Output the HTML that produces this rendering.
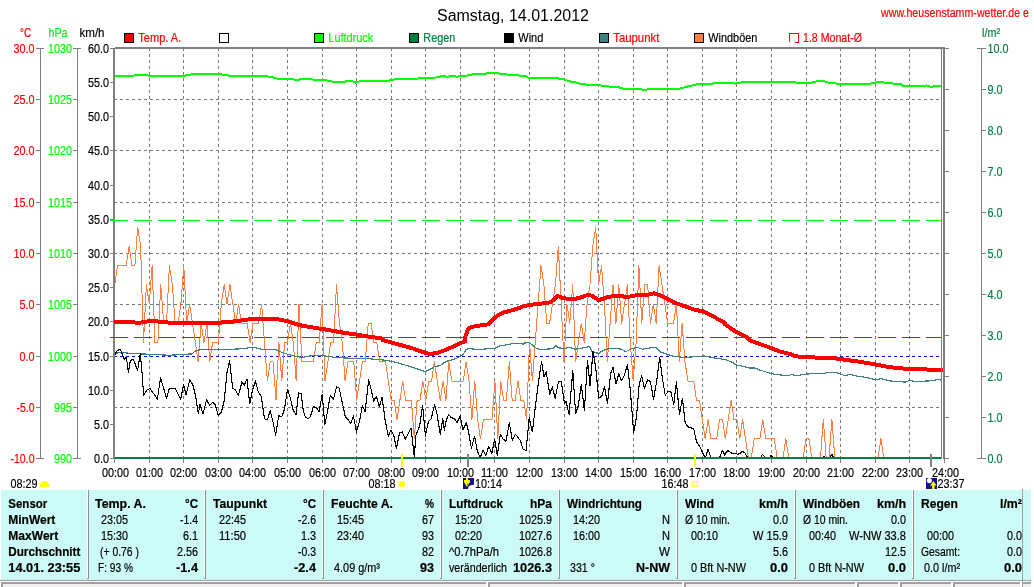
<!DOCTYPE html>
<html><head><meta charset="utf-8"><title>Wetter</title>
<style>
html,body{margin:0;padding:0;background:#fff;}
body{width:1034px;height:587px;overflow:hidden;}
svg{display:block;font-family:"Liberation Sans",sans-serif;will-change:transform;}
</style></head><body>
<svg width="1034" height="587" viewBox="0 0 1034 587">
<rect x="0" y="0" width="1034" height="587" fill="#ffffff"/>
<g shape-rendering="crispEdges">
<line x1="149.5" y1="48" x2="149.5" y2="457" stroke="#787878" stroke-width="1" stroke-dasharray="3 3" stroke-dashoffset="0"/>
<line x1="183.5" y1="48" x2="183.5" y2="457" stroke="#787878" stroke-width="1" stroke-dasharray="3 3" stroke-dashoffset="0"/>
<line x1="218.5" y1="48" x2="218.5" y2="457" stroke="#787878" stroke-width="1" stroke-dasharray="3 3" stroke-dashoffset="0"/>
<line x1="252.5" y1="48" x2="252.5" y2="457" stroke="#787878" stroke-width="1" stroke-dasharray="3 3" stroke-dashoffset="0"/>
<line x1="287.5" y1="48" x2="287.5" y2="457" stroke="#787878" stroke-width="1" stroke-dasharray="3 3" stroke-dashoffset="0"/>
<line x1="322.5" y1="48" x2="322.5" y2="457" stroke="#787878" stroke-width="1" stroke-dasharray="3 3" stroke-dashoffset="0"/>
<line x1="356.5" y1="48" x2="356.5" y2="457" stroke="#787878" stroke-width="1" stroke-dasharray="3 3" stroke-dashoffset="0"/>
<line x1="391.5" y1="48" x2="391.5" y2="457" stroke="#787878" stroke-width="1" stroke-dasharray="3 3" stroke-dashoffset="0"/>
<line x1="425.5" y1="48" x2="425.5" y2="457" stroke="#787878" stroke-width="1" stroke-dasharray="3 3" stroke-dashoffset="0"/>
<line x1="460.5" y1="48" x2="460.5" y2="457" stroke="#787878" stroke-width="1" stroke-dasharray="3 3" stroke-dashoffset="0"/>
<line x1="494.5" y1="48" x2="494.5" y2="457" stroke="#787878" stroke-width="1" stroke-dasharray="3 3" stroke-dashoffset="0"/>
<line x1="529.5" y1="48" x2="529.5" y2="457" stroke="#787878" stroke-width="1" stroke-dasharray="3 3" stroke-dashoffset="0"/>
<line x1="564.5" y1="48" x2="564.5" y2="457" stroke="#787878" stroke-width="1" stroke-dasharray="3 3" stroke-dashoffset="0"/>
<line x1="598.5" y1="48" x2="598.5" y2="457" stroke="#787878" stroke-width="1" stroke-dasharray="3 3" stroke-dashoffset="0"/>
<line x1="633.5" y1="48" x2="633.5" y2="457" stroke="#787878" stroke-width="1" stroke-dasharray="3 3" stroke-dashoffset="0"/>
<line x1="667.5" y1="48" x2="667.5" y2="457" stroke="#787878" stroke-width="1" stroke-dasharray="3 3" stroke-dashoffset="0"/>
<line x1="702.5" y1="48" x2="702.5" y2="457" stroke="#787878" stroke-width="1" stroke-dasharray="3 3" stroke-dashoffset="0"/>
<line x1="736.5" y1="48" x2="736.5" y2="457" stroke="#787878" stroke-width="1" stroke-dasharray="3 3" stroke-dashoffset="0"/>
<line x1="771.5" y1="48" x2="771.5" y2="457" stroke="#787878" stroke-width="1" stroke-dasharray="3 3" stroke-dashoffset="0"/>
<line x1="806.5" y1="48" x2="806.5" y2="457" stroke="#787878" stroke-width="1" stroke-dasharray="3 3" stroke-dashoffset="0"/>
<line x1="840.5" y1="48" x2="840.5" y2="457" stroke="#787878" stroke-width="1" stroke-dasharray="3 3" stroke-dashoffset="0"/>
<line x1="875.5" y1="48" x2="875.5" y2="457" stroke="#787878" stroke-width="1" stroke-dasharray="3 3" stroke-dashoffset="0"/>
<line x1="909.5" y1="48" x2="909.5" y2="457" stroke="#787878" stroke-width="1" stroke-dasharray="3 3" stroke-dashoffset="0"/>
<line x1="115" y1="99.5" x2="941" y2="99.5" stroke="#787878" stroke-width="1" stroke-dasharray="3 3" stroke-dashoffset="1"/>
<line x1="115" y1="150.5" x2="941" y2="150.5" stroke="#787878" stroke-width="1" stroke-dasharray="3 3" stroke-dashoffset="1"/>
<line x1="115" y1="202.5" x2="941" y2="202.5" stroke="#787878" stroke-width="1" stroke-dasharray="3 3" stroke-dashoffset="1"/>
<line x1="115" y1="253.5" x2="941" y2="253.5" stroke="#787878" stroke-width="1" stroke-dasharray="3 3" stroke-dashoffset="1"/>
<line x1="115" y1="304.5" x2="941" y2="304.5" stroke="#787878" stroke-width="1" stroke-dasharray="3 3" stroke-dashoffset="1"/>
<line x1="115" y1="407.5" x2="941" y2="407.5" stroke="#787878" stroke-width="1" stroke-dasharray="3 3" stroke-dashoffset="1"/>
<line x1="110" y1="220.5" x2="941" y2="220.5" stroke="#00ff00" stroke-width="1" stroke-dasharray="18 6" stroke-dashoffset="0"/>
<line x1="110" y1="337.5" x2="941" y2="337.5" stroke="#ff0000" stroke-width="1" stroke-dasharray="18 6" stroke-dashoffset="0"/>
<line x1="115" y1="356.5" x2="941" y2="356.5" stroke="#0000ff" stroke-width="1" stroke-dasharray="3 3" stroke-dashoffset="1"/>
</g>
<clipPath id="pc"><rect x="115" y="49" width="827" height="410"/></clipPath>
<g fill="none" stroke-linejoin="round" shape-rendering="crispEdges" clip-path="url(#pc)">
<polyline points="114.7,284.8 117.6,265.5 120.5,265.5 123.3,265.5 126.2,265.5 129.1,246.3 132.0,265.5 134.9,265.5 137.7,227.0 140.6,246.3 143.5,342.5 146.4,284.8 149.3,304.0 152.1,265.5 155.0,342.5 157.9,342.5 160.8,284.8 163.7,323.3 166.5,323.3 169.4,265.5 172.3,284.8 175.2,323.3 178.1,323.3 180.9,304.0 183.8,265.5 186.7,323.3 189.6,304.0 192.5,323.3 195.4,342.5 198.2,361.8 201.1,323.3 204.0,342.5 206.9,323.3 209.8,361.8 212.6,342.5 215.5,342.5 218.4,342.5 221.3,304.0 224.2,284.8 227.0,304.0 229.9,284.8 232.8,304.0 235.7,323.3 238.6,304.0 241.4,323.3 244.3,323.3 247.2,323.3 250.1,342.5 253.0,323.3 255.8,323.3 258.7,323.3 261.6,304.0 264.5,342.5 267.4,381.0 270.2,361.8 273.1,361.8 276.0,400.3 278.9,342.5 281.8,381.0 284.6,342.5 287.5,342.5 290.4,323.3 293.3,342.5 296.2,381.0 299.0,304.0 301.9,361.8 304.8,361.8 307.7,361.8 310.6,361.8 313.4,361.8 316.3,342.5 319.2,342.5 322.1,304.0 325.0,381.0 327.9,361.8 330.7,342.5 333.6,342.5 336.5,284.8 339.4,323.3 342.3,342.5 345.1,381.0 348.0,361.8 350.9,361.8 353.8,361.8 356.7,400.3 359.5,381.0 362.4,361.8 365.3,361.8 368.2,323.3 371.1,323.3 373.9,342.5 376.8,342.5 379.7,361.8 382.6,361.8 385.5,361.8 388.3,381.0 391.2,400.3 394.1,400.3 397.0,419.5 399.9,400.3 402.7,381.0 405.6,400.3 408.5,400.3 411.4,400.3 414.3,438.8 417.1,400.3 420.0,400.3 422.9,381.0 425.8,400.3 428.7,381.0 431.5,381.0 434.4,361.8 437.3,381.0 440.2,400.3 443.1,381.0 445.9,400.3 448.8,361.8 451.7,381.0 454.6,381.0 457.5,381.0 460.3,381.0 463.2,381.0 466.1,361.8 469.0,381.0 471.9,419.5 474.8,381.0 477.6,419.5 480.5,438.8 483.4,419.5 486.3,419.5 489.2,419.5 492.0,419.5 494.9,381.0 497.8,438.8 500.7,381.0 503.6,400.3 506.4,400.3 509.3,361.8 512.2,400.3 515.1,400.3 518.0,381.0 520.8,400.3 523.7,400.3 526.6,419.5 529.5,342.5 532.4,381.0 535.2,342.5 538.1,304.0 541.0,265.5 543.9,284.8 546.8,323.3 549.6,323.3 552.5,304.0 555.4,284.8 558.3,246.3 561.2,304.0 564.0,361.8 566.9,304.0 569.8,323.3 572.7,284.8 575.6,361.8 578.4,342.5 581.3,323.3 584.2,342.5 587.1,304.0 590.0,284.8 592.8,246.3 595.7,227.0 598.6,284.8 601.5,265.5 604.4,304.0 607.3,361.8 610.1,323.3 613.0,284.8 615.9,323.3 618.8,284.8 621.7,323.3 624.5,304.0 627.4,284.8 630.3,342.5 633.2,381.0 636.1,342.5 638.9,265.5 641.8,323.3 644.7,284.8 647.6,284.8 650.5,323.3 653.3,304.0 656.2,323.3 659.1,265.5 662.0,284.8 664.9,304.0 667.7,323.3 670.6,323.3 673.5,323.3 676.4,304.0 679.3,361.8 682.1,323.3 685.0,361.8 687.9,381.0 690.8,381.0 693.7,381.0 696.5,400.3 699.4,400.3 702.3,419.5 705.2,438.8 708.1,419.5 710.9,438.8 713.8,438.8 716.7,438.8 719.6,419.5 722.5,419.5 725.3,438.8 728.2,419.5 731.1,400.3 734.0,419.5 736.9,419.5 739.8,438.8 742.6,419.5 745.5,438.8 748.4,458.0 751.3,458.0 754.2,438.8 757.0,438.8 759.9,438.8 762.8,419.5 765.7,438.8 768.6,438.8 771.4,438.8 774.3,438.8 777.2,458.0 780.1,458.0 783.0,458.0 785.8,438.8 788.7,458.0 791.6,458.0 794.5,458.0 797.4,458.0 800.2,458.0 803.1,458.0 806.0,438.8 808.9,438.8 811.8,458.0 814.6,458.0 817.5,458.0 820.4,458.0 823.3,419.5 826.2,458.0 829.0,458.0 831.9,419.5 834.8,458.0 837.7,458.0 840.6,458.0 843.4,458.0 846.3,458.0 849.2,458.0 852.1,458.0 855.0,458.0 857.8,458.0 860.7,458.0 863.6,458.0 866.5,458.0 869.4,458.0 872.2,458.0 875.1,458.0 878.0,458.0 880.9,438.8 883.8,458.0 886.7,458.0 889.5,458.0 892.4,458.0 895.3,458.0 898.2,458.0 901.1,458.0 903.9,458.0 906.8,458.0 909.7,458.0 912.6,458.0 915.5,458.0 918.3,458.0 921.2,458.0 924.1,458.0 927.0,458.0 929.9,458.0 932.7,458.0 935.6,458.0 938.5,458.0 941.4,458.0 944.3,458.0" stroke="#ff8040" stroke-width="1"/>
<polyline points="114.5,355.3 118.2,352.3 130.4,353.3 140.7,353.9 150.9,354.3 169.3,355.3 191.8,353.9 195.9,350.6 202.0,349.2 216.3,349.2 226.6,349.8 232.7,349.2 245.0,348.6 251.1,347.2 255.2,347.6 261.3,349.2 275.6,349.6 281.8,352.3 287.9,354.3 294.0,356.0 302.2,357.4 307.3,356.4 314.5,355.3 325.2,356.0 335.4,357.4 345.7,358.0 355.9,358.4 366.1,358.4 376.3,359.4 386.6,360.4 396.8,362.5 407.0,365.6 417.2,369.0 425.4,371.7 431.6,368.6 434.6,366.6 440.2,365.6 445.9,361.5 450.0,360.4 456.1,358.4 460.2,356.4 463.3,354.3 466.3,349.2 470.4,348.6 478.6,349.8 488.8,348.6 495.0,348.2 499.0,346.1 505.2,345.1 515.4,343.1 523.6,344.1 524.1,343.1 529.2,342.5 532.3,345.1 536.4,348.2 540.4,349.8 546.6,349.2 552.7,348.6 555.8,345.7 558.9,347.8 564.0,348.6 569.1,347.2 575.2,349.2 581.3,348.2 589.5,346.5 592.6,352.3 598.7,353.3 603.8,350.2 610.0,348.2 622.2,349.2 625.3,351.9 630.4,349.2 636.6,347.2 642.7,349.2 650.9,347.8 656.0,347.8 661.1,352.3 667.2,354.3 673.4,356.4 683.6,357.4 693.8,356.8 704.0,356.0 714.3,358.0 724.5,359.4 728.6,360.9 731.5,361.8 736.3,365.0 742.4,366.1 748.9,367.9 754.4,367.9 759.8,370.0 771.3,373.7 779.4,374.8 788.1,375.9 791.4,374.4 796.8,375.9 803.3,374.4 812.0,373.7 822.9,373.7 829.4,372.2 836.0,372.6 840.3,373.7 844.7,375.9 850.1,374.4 855.5,375.9 866.4,377.4 875.1,379.6 881.7,378.7 890.4,380.9 899.1,381.8 905.6,382.0 909.5,380.3 914.3,381.3 920.8,381.3 929.5,380.9 938.2,379.6 941.5,380.3" stroke="#408080" stroke-width="1.2"/>
<polyline points="114.5,355.3 117.2,350.6 120.2,349.2 122.3,354.3 124.3,359.4 126.4,357.4 128.4,372.3 130.4,360.4 133.5,359.4 137.6,370.7 140.3,353.3 141.7,368.6 143.7,395.2 146.8,390.1 149.9,388.5 154.0,394.2 157.4,399.3 160.5,377.8 163.6,388.1 166.6,398.3 169.3,388.5 175.4,388.5 180.6,399.3 183.6,384.6 186.1,394.8 189.8,379.9 192.8,385.0 195.5,395.2 198.3,414.0 200.0,404.4 203.0,414.0 206.5,399.9 209.6,405.0 212.7,402.4 215.3,405.0 218.4,415.7 221.5,411.6 224.1,401.3 227.0,372.7 229.6,360.4 232.7,388.5 235.2,389.7 238.4,395.6 241.9,381.9 244.4,385.0 247.0,378.9 249.7,403.8 252.5,390.1 255.4,380.9 258.3,392.1 261.3,396.2 264.4,418.7 267.5,419.8 270.1,410.6 273.0,421.8 275.6,435.1 278.7,415.7 281.8,416.7 284.4,409.5 287.5,389.1 290.4,398.3 293.2,410.6 296.1,414.6 298.5,392.8 301.2,393.6 303.3,410.6 305.3,416.7 308.0,418.7 310.4,416.7 313.5,406.5 315.0,407.5 316.5,407.5 319.1,411.6 322.2,394.2 324.8,424.9 327.7,410.6 330.3,395.2 333.4,399.3 336.5,387.0 339.1,388.1 342.0,401.3 345.3,416.7 348.1,419.8 350.8,423.8 353.4,415.7 356.5,432.0 359.4,421.8 362.4,405.4 365.1,411.6 368.6,379.9 370.8,388.1 373.7,401.3 376.3,396.2 379.4,406.5 382.1,397.3 385.1,419.8 388.2,436.1 391.1,430.0 393.9,436.1 396.4,448.4 399.5,433.0 402.3,432.0 405.2,439.2 408.0,434.1 411.1,427.9 414.4,458.0 415.6,436.1 419.7,425.9 422.6,405.4 425.4,436.1 428.3,421.8 431.2,418.7 434.6,404.4 437.1,414.6 440.2,434.1 442.8,418.7 444.4,430.0 445.9,421.8 448.5,414.6 451.4,417.7 454.3,418.7 457.1,422.8 460.2,415.7 462.9,430.0 466.3,422.8 468.8,433.0 471.4,448.4 474.5,436.1 477.2,450.4 480.2,457.6 483.1,450.4 485.8,455.5 488.8,446.3 491.9,453.5 494.6,439.2 497.4,455.5 500.3,434.1 503.1,439.2 506.0,441.2 509.3,422.8 512.3,440.2 515.4,434.1 520.0,440.2 520.3,440.2 523.1,449.4 523.2,449.4 526.1,450.4 529.2,417.7 532.3,432.0 535.3,407.5 538.4,382.9 541.5,361.5 544.1,376.8 546.2,371.7 549.7,394.2 552.3,387.0 555.2,398.3 558.4,381.9 561.3,381.9 564.4,403.4 566.0,401.3 569.1,414.6 572.8,370.7 575.6,413.6 578.3,405.4 581.3,384.0 584.4,410.6 587.5,360.4 590.1,386.0 593.0,351.2 595.7,367.6 598.7,398.3 601.8,396.2 604.5,387.0 607.5,403.4 610.6,373.7 613.0,367.6 616.1,384.0 618.8,373.7 621.6,380.9 624.5,374.8 627.4,364.5 630.4,391.1 633.7,433.0 636.6,415.7 639.2,384.0 641.7,375.8 644.3,388.1 647.8,379.9 650.5,381.9 653.5,399.3 656.4,382.9 659.7,357.4 662.5,378.9 665.2,395.2 668.3,391.1 670.9,392.1 673.8,404.4 676.4,381.9 679.5,414.6 682.4,398.3 685.2,422.8 688.1,426.9 691.0,427.9 693.8,429.0 696.3,441.2 699.6,446.3 702.4,452.1 705.3,458.0 708.1,449.4 711.0,458.0 719.4,458.0 722.5,450.4 725.0,455.3 725.3,453.5 728.2,450.4 728.3,451.0 731.5,453.1 734.8,453.6 738.1,454.2 740.2,453.1 742.4,451.4 745.0,453.1 747.8,457.9 760.9,457.9 762.4,454.2 764.2,456.4 765.3,457.9 769.6,457.9 771.1,455.3 772.9,457.9 822.9,457.9 824.0,456.4 825.5,457.9 829.4,457.9 832.0,454.2 833.8,457.9 942.6,457.9" stroke="#000" stroke-width="1.1"/>
<polyline points="114.1,75.9 126.2,76.1 131.7,75.6 145.2,75.0 153.3,76.4 180.4,76.4 191.2,74.5 217.0,73.7 229.1,75.6 250.8,75.9 261.6,75.6 272.5,77.2 277.9,78.8 288.7,78.8 296.8,79.9 302.3,79.1 310.4,79.4 323.9,79.9 332.0,81.5 345.6,81.5 351.0,80.7 355.9,82.6 360.5,81.0 378.1,81.0 380.8,81.5 388.9,80.7 390.4,80.2 398.5,78.8 417.5,78.6 422.9,77.7 436.4,77.5 443.2,75.9 447.3,76.7 452.7,75.9 456.8,76.7 466.2,75.6 474.4,74.0 485.2,73.7 490.6,72.9 496.0,73.1 506.9,74.5 515.0,75.3 525.8,75.9 528.5,78.0 555.6,78.0 563.7,79.4 569.1,81.3 574.5,82.1 580.0,83.7 588.1,84.8 598.9,85.1 607.0,86.4 617.9,87.0 623.3,88.8 639.5,89.1 645.0,89.9 651.7,88.8 663.9,88.8 679.6,88.7 688.0,86.4 696.5,84.4 710.5,84.2 716.1,82.5 720.3,83.3 727.3,83.3 730.7,82.5 735.7,83.6 741.3,82.5 772.2,82.2 780.6,81.6 789.0,82.5 793.2,81.6 798.8,83.3 808.6,83.3 815.6,81.6 821.2,80.5 828.3,82.5 836.7,83.6 853.5,83.6 859.1,84.4 867.5,84.2 874.5,82.8 880.1,81.6 887.1,83.3 895.6,83.6 901.2,84.4 903.4,86.4 923.6,86.4 926.4,85.3 930.6,86.7 940.4,85.8 942.7,85.8" stroke="#00ff00" stroke-width="2"/>
</g>
<clipPath id="pr"><rect x="113" y="49" width="830" height="410"/></clipPath>
<g fill="none" stroke-linejoin="round" shape-rendering="crispEdges" clip-path="url(#pr)"><polyline points="112.5,322.2 114.1,322.2 140.7,322.6 150.9,320.8 171.3,322.8 195.9,323.2 220.4,322.6 232.7,321.6 251.1,319.1 273.6,318.5 287.9,321.2 300.2,325.3 315.0,327.9 327.3,329.8 341.6,332.4 355.9,334.5 368.2,336.5 382.5,338.6 382.5,340.0 400.9,345.1 413.2,348.6 421.3,351.5 426.5,353.3 431.6,353.9 437.7,352.7 445.9,349.8 454.1,346.1 465.3,341.0 465.3,336.5 468.4,328.3 474.5,326.3 488.8,324.2 495.0,317.1 503.1,312.6 513.4,309.9 523.6,306.3 530.2,304.8 540.4,303.8 550.7,302.2 557.8,296.0 562.9,298.1 573.2,299.3 581.3,297.3 587.5,295.0 591.6,295.6 598.7,300.1 605.9,297.7 612.0,296.2 620.2,295.6 626.3,297.3 634.5,295.6 642.7,294.6 648.8,294.6 653.9,293.2 661.1,295.6 667.2,298.7 673.4,302.2 683.6,305.8 693.8,309.5 704.0,311.6 714.3,317.1 724.5,322.6 725.0,324.3 735.9,331.9 746.8,337.3 748.9,340.0 757.6,343.3 768.5,347.0 779.4,351.3 790.3,354.1 794.6,356.3 812.0,357.4 833.8,358.1 846.8,360.0 859.9,361.8 875.1,364.4 886.0,366.5 899.1,368.3 909.9,368.9 920.8,369.4 942.6,369.8 943.5,369.8" stroke="#ff0000" stroke-width="4"/></g>
<g shape-rendering="crispEdges">
<rect x="115" y="457" width="827" height="2" fill="#008040"/>
<rect x="113" y="48" width="2" height="411" fill="#808080"/>
<rect x="115" y="47" width="830" height="2" fill="#808080"/>
<rect x="941" y="49" width="1" height="410" fill="#808080"/>
<rect x="943" y="47" width="2" height="412" fill="#808080"/>
<rect x="40" y="48" width="1" height="411" fill="#808080"/>
<rect x="77" y="48" width="1" height="411" fill="#808080"/>
<rect x="36" y="48" width="8" height="1" fill="#808080"/>
<rect x="73" y="48" width="8" height="1" fill="#808080"/>
<rect x="36" y="99" width="4" height="1" fill="#808080"/>
<rect x="73" y="99" width="4" height="1" fill="#808080"/>
<rect x="36" y="150" width="4" height="1" fill="#808080"/>
<rect x="73" y="150" width="4" height="1" fill="#808080"/>
<rect x="36" y="202" width="4" height="1" fill="#808080"/>
<rect x="73" y="202" width="4" height="1" fill="#808080"/>
<rect x="36" y="253" width="4" height="1" fill="#808080"/>
<rect x="73" y="253" width="4" height="1" fill="#808080"/>
<rect x="36" y="304" width="4" height="1" fill="#808080"/>
<rect x="73" y="304" width="4" height="1" fill="#808080"/>
<rect x="36" y="356" width="4" height="1" fill="#808080"/>
<rect x="73" y="356" width="4" height="1" fill="#808080"/>
<rect x="36" y="407" width="4" height="1" fill="#808080"/>
<rect x="73" y="407" width="4" height="1" fill="#808080"/>
<rect x="36" y="458" width="8" height="1" fill="#808080"/>
<rect x="73" y="458" width="8" height="1" fill="#808080"/>
<rect x="110" y="458" width="3" height="1" fill="#808080"/>
<rect x="110" y="424" width="3" height="1" fill="#808080"/>
<rect x="110" y="390" width="3" height="1" fill="#808080"/>
<rect x="110" y="356" width="3" height="1" fill="#808080"/>
<rect x="110" y="321" width="3" height="1" fill="#808080"/>
<rect x="110" y="287" width="3" height="1" fill="#808080"/>
<rect x="110" y="253" width="3" height="1" fill="#808080"/>
<rect x="110" y="219" width="3" height="1" fill="#808080"/>
<rect x="110" y="185" width="3" height="1" fill="#808080"/>
<rect x="110" y="150" width="3" height="1" fill="#808080"/>
<rect x="110" y="116" width="3" height="1" fill="#808080"/>
<rect x="110" y="82" width="3" height="1" fill="#808080"/>
<rect x="110" y="48" width="3" height="1" fill="#808080"/>
<rect x="981" y="48" width="1" height="411" fill="#808080"/>
<rect x="977" y="458" width="9" height="1" fill="#808080"/>
<rect x="945" y="458" width="4" height="1" fill="#808080"/>
<rect x="982" y="417" width="4" height="1" fill="#808080"/>
<rect x="945" y="417" width="4" height="1" fill="#808080"/>
<rect x="982" y="376" width="4" height="1" fill="#808080"/>
<rect x="945" y="376" width="4" height="1" fill="#808080"/>
<rect x="982" y="335" width="4" height="1" fill="#808080"/>
<rect x="945" y="335" width="4" height="1" fill="#808080"/>
<rect x="982" y="294" width="4" height="1" fill="#808080"/>
<rect x="945" y="294" width="4" height="1" fill="#808080"/>
<rect x="982" y="253" width="4" height="1" fill="#808080"/>
<rect x="945" y="253" width="4" height="1" fill="#808080"/>
<rect x="982" y="212" width="4" height="1" fill="#808080"/>
<rect x="945" y="212" width="4" height="1" fill="#808080"/>
<rect x="982" y="171" width="4" height="1" fill="#808080"/>
<rect x="945" y="171" width="4" height="1" fill="#808080"/>
<rect x="982" y="130" width="4" height="1" fill="#808080"/>
<rect x="945" y="130" width="4" height="1" fill="#808080"/>
<rect x="982" y="89" width="4" height="1" fill="#808080"/>
<rect x="945" y="89" width="4" height="1" fill="#808080"/>
<rect x="977" y="48" width="9" height="1" fill="#808080"/>
<rect x="945" y="48" width="4" height="1" fill="#808080"/>
<rect x="114" y="459" width="1" height="4" fill="#808080"/>
<rect x="149" y="459" width="1" height="4" fill="#808080"/>
<rect x="183" y="459" width="1" height="4" fill="#808080"/>
<rect x="218" y="459" width="1" height="4" fill="#808080"/>
<rect x="252" y="459" width="1" height="4" fill="#808080"/>
<rect x="287" y="459" width="1" height="4" fill="#808080"/>
<rect x="322" y="459" width="1" height="4" fill="#808080"/>
<rect x="356" y="459" width="1" height="4" fill="#808080"/>
<rect x="391" y="459" width="1" height="4" fill="#808080"/>
<rect x="425" y="459" width="1" height="4" fill="#808080"/>
<rect x="460" y="459" width="1" height="4" fill="#808080"/>
<rect x="494" y="459" width="1" height="4" fill="#808080"/>
<rect x="529" y="459" width="1" height="4" fill="#808080"/>
<rect x="564" y="459" width="1" height="4" fill="#808080"/>
<rect x="598" y="459" width="1" height="4" fill="#808080"/>
<rect x="633" y="459" width="1" height="4" fill="#808080"/>
<rect x="667" y="459" width="1" height="4" fill="#808080"/>
<rect x="702" y="459" width="1" height="4" fill="#808080"/>
<rect x="736" y="459" width="1" height="4" fill="#808080"/>
<rect x="771" y="459" width="1" height="4" fill="#808080"/>
<rect x="806" y="459" width="1" height="4" fill="#808080"/>
<rect x="840" y="459" width="1" height="4" fill="#808080"/>
<rect x="875" y="459" width="1" height="4" fill="#808080"/>
<rect x="909" y="459" width="1" height="4" fill="#808080"/>
<rect x="944" y="459" width="1" height="4" fill="#808080"/>
<rect x="401" y="454" width="2" height="13" fill="#ffff00"/>
<rect x="694" y="454" width="2" height="13" fill="#ffff00"/>
<rect x="467" y="454" width="2" height="13" fill="#808080"/>
<rect x="930" y="454" width="2" height="13" fill="#808080"/>
</g>
<g shape-rendering="crispEdges">
<rect x="114" y="320" width="1" height="4" fill="#ff0000"/>
<rect x="110" y="220" width="5" height="1" fill="#00ff00"/>
<rect x="110" y="337" width="5" height="1" fill="#ff0000"/>
</g>
<text x="13.5" y="53.0" fill="#ff0000" stroke="#ff0000" stroke-width="0.2" font-size="13" textLength="21.0" lengthAdjust="spacingAndGlyphs">30.0</text>
<text x="48.0" y="53.0" fill="#00ff00" stroke="#00ff00" stroke-width="0.2" font-size="13" textLength="24.0" lengthAdjust="spacingAndGlyphs">1030</text>
<text x="13.5" y="104.0" fill="#ff0000" stroke="#ff0000" stroke-width="0.2" font-size="13" textLength="21.0" lengthAdjust="spacingAndGlyphs">25.0</text>
<text x="48.0" y="104.0" fill="#00ff00" stroke="#00ff00" stroke-width="0.2" font-size="13" textLength="24.0" lengthAdjust="spacingAndGlyphs">1025</text>
<text x="13.5" y="155.0" fill="#ff0000" stroke="#ff0000" stroke-width="0.2" font-size="13" textLength="21.0" lengthAdjust="spacingAndGlyphs">20.0</text>
<text x="48.0" y="155.0" fill="#00ff00" stroke="#00ff00" stroke-width="0.2" font-size="13" textLength="24.0" lengthAdjust="spacingAndGlyphs">1020</text>
<text x="13.5" y="207.0" fill="#ff0000" stroke="#ff0000" stroke-width="0.2" font-size="13" textLength="21.0" lengthAdjust="spacingAndGlyphs">15.0</text>
<text x="48.0" y="207.0" fill="#00ff00" stroke="#00ff00" stroke-width="0.2" font-size="13" textLength="24.0" lengthAdjust="spacingAndGlyphs">1015</text>
<text x="13.5" y="258.0" fill="#ff0000" stroke="#ff0000" stroke-width="0.2" font-size="13" textLength="21.0" lengthAdjust="spacingAndGlyphs">10.0</text>
<text x="48.0" y="258.0" fill="#00ff00" stroke="#00ff00" stroke-width="0.2" font-size="13" textLength="24.0" lengthAdjust="spacingAndGlyphs">1010</text>
<text x="19.5" y="309.0" fill="#ff0000" stroke="#ff0000" stroke-width="0.2" font-size="13" textLength="15.0" lengthAdjust="spacingAndGlyphs">5.0</text>
<text x="48.0" y="309.0" fill="#00ff00" stroke="#00ff00" stroke-width="0.2" font-size="13" textLength="24.0" lengthAdjust="spacingAndGlyphs">1005</text>
<text x="19.5" y="361.0" fill="#ff0000" stroke="#ff0000" stroke-width="0.2" font-size="13" textLength="15.0" lengthAdjust="spacingAndGlyphs">0.0</text>
<text x="48.0" y="361.0" fill="#00ff00" stroke="#00ff00" stroke-width="0.2" font-size="13" textLength="24.0" lengthAdjust="spacingAndGlyphs">1000</text>
<text x="16.5" y="412.0" fill="#ff0000" stroke="#ff0000" stroke-width="0.2" font-size="13" textLength="18.0" lengthAdjust="spacingAndGlyphs">-5.0</text>
<text x="54.0" y="412.0" fill="#00ff00" stroke="#00ff00" stroke-width="0.2" font-size="13" textLength="18.0" lengthAdjust="spacingAndGlyphs">995</text>
<text x="10.5" y="463.0" fill="#ff0000" stroke="#ff0000" stroke-width="0.2" font-size="13" textLength="24.0" lengthAdjust="spacingAndGlyphs">-10.0</text>
<text x="54.0" y="463.0" fill="#00ff00" stroke="#00ff00" stroke-width="0.2" font-size="13" textLength="18.0" lengthAdjust="spacingAndGlyphs">990</text>
<text x="94.0" y="463.0" fill="#000" stroke="#000" stroke-width="0.2" font-size="13" textLength="15.0" lengthAdjust="spacingAndGlyphs">0.0</text>
<text x="94.0" y="429.0" fill="#000" stroke="#000" stroke-width="0.2" font-size="13" textLength="15.0" lengthAdjust="spacingAndGlyphs">5.0</text>
<text x="88.0" y="395.0" fill="#000" stroke="#000" stroke-width="0.2" font-size="13" textLength="21.0" lengthAdjust="spacingAndGlyphs">10.0</text>
<text x="88.0" y="361.0" fill="#000" stroke="#000" stroke-width="0.2" font-size="13" textLength="21.0" lengthAdjust="spacingAndGlyphs">15.0</text>
<text x="88.0" y="326.0" fill="#000" stroke="#000" stroke-width="0.2" font-size="13" textLength="21.0" lengthAdjust="spacingAndGlyphs">20.0</text>
<text x="88.0" y="292.0" fill="#000" stroke="#000" stroke-width="0.2" font-size="13" textLength="21.0" lengthAdjust="spacingAndGlyphs">25.0</text>
<text x="88.0" y="258.0" fill="#000" stroke="#000" stroke-width="0.2" font-size="13" textLength="21.0" lengthAdjust="spacingAndGlyphs">30.0</text>
<text x="88.0" y="224.0" fill="#000" stroke="#000" stroke-width="0.2" font-size="13" textLength="21.0" lengthAdjust="spacingAndGlyphs">35.0</text>
<text x="88.0" y="190.0" fill="#000" stroke="#000" stroke-width="0.2" font-size="13" textLength="21.0" lengthAdjust="spacingAndGlyphs">40.0</text>
<text x="88.0" y="155.0" fill="#000" stroke="#000" stroke-width="0.2" font-size="13" textLength="21.0" lengthAdjust="spacingAndGlyphs">45.0</text>
<text x="88.0" y="121.0" fill="#000" stroke="#000" stroke-width="0.2" font-size="13" textLength="21.0" lengthAdjust="spacingAndGlyphs">50.0</text>
<text x="88.0" y="87.0" fill="#000" stroke="#000" stroke-width="0.2" font-size="13" textLength="21.0" lengthAdjust="spacingAndGlyphs">55.0</text>
<text x="88.0" y="53.0" fill="#000" stroke="#000" stroke-width="0.2" font-size="13" textLength="21.0" lengthAdjust="spacingAndGlyphs">60.0</text>
<text x="987.5" y="463.0" fill="#008040" stroke="#008040" stroke-width="0.2" font-size="13" textLength="15.0" lengthAdjust="spacingAndGlyphs">0.0</text>
<text x="987.5" y="422.0" fill="#008040" stroke="#008040" stroke-width="0.2" font-size="13" textLength="15.0" lengthAdjust="spacingAndGlyphs">1.0</text>
<text x="987.5" y="381.0" fill="#008040" stroke="#008040" stroke-width="0.2" font-size="13" textLength="15.0" lengthAdjust="spacingAndGlyphs">2.0</text>
<text x="987.5" y="340.0" fill="#008040" stroke="#008040" stroke-width="0.2" font-size="13" textLength="15.0" lengthAdjust="spacingAndGlyphs">3.0</text>
<text x="987.5" y="299.0" fill="#008040" stroke="#008040" stroke-width="0.2" font-size="13" textLength="15.0" lengthAdjust="spacingAndGlyphs">4.0</text>
<text x="987.5" y="258.0" fill="#008040" stroke="#008040" stroke-width="0.2" font-size="13" textLength="15.0" lengthAdjust="spacingAndGlyphs">5.0</text>
<text x="987.5" y="217.0" fill="#008040" stroke="#008040" stroke-width="0.2" font-size="13" textLength="15.0" lengthAdjust="spacingAndGlyphs">6.0</text>
<text x="987.5" y="176.0" fill="#008040" stroke="#008040" stroke-width="0.2" font-size="13" textLength="15.0" lengthAdjust="spacingAndGlyphs">7.0</text>
<text x="987.5" y="135.0" fill="#008040" stroke="#008040" stroke-width="0.2" font-size="13" textLength="15.0" lengthAdjust="spacingAndGlyphs">8.0</text>
<text x="987.5" y="94.0" fill="#008040" stroke="#008040" stroke-width="0.2" font-size="13" textLength="15.0" lengthAdjust="spacingAndGlyphs">9.0</text>
<text x="987.5" y="53.0" fill="#008040" stroke="#008040" stroke-width="0.2" font-size="13" textLength="21.0" lengthAdjust="spacingAndGlyphs">10.0</text>
<text x="20.0" y="37.0" fill="#ff0000" stroke="#ff0000" stroke-width="0.2" font-size="13" textLength="11.0" lengthAdjust="spacingAndGlyphs">°C</text>
<text x="48.5" y="37.0" fill="#00ff00" stroke="#00ff00" stroke-width="0.2" font-size="13" textLength="19.0" lengthAdjust="spacingAndGlyphs">hPa</text>
<text x="79.5" y="37.0" fill="#000" stroke="#000" stroke-width="0.2" font-size="13" textLength="25.0" lengthAdjust="spacingAndGlyphs">km/h</text>
<text x="982.0" y="37.0" fill="#008040" stroke="#008040" stroke-width="0.2" font-size="13" textLength="18.0" lengthAdjust="spacingAndGlyphs">l/m²</text>
<text x="102.0" y="477.0" fill="#000" stroke="#000" stroke-width="0.2" font-size="13" textLength="27.0" lengthAdjust="spacingAndGlyphs">00:00</text>
<text x="136.0" y="477.0" fill="#000" stroke="#000" stroke-width="0.2" font-size="13" textLength="27.0" lengthAdjust="spacingAndGlyphs">01:00</text>
<text x="170.0" y="477.0" fill="#000" stroke="#000" stroke-width="0.2" font-size="13" textLength="27.0" lengthAdjust="spacingAndGlyphs">02:00</text>
<text x="205.0" y="477.0" fill="#000" stroke="#000" stroke-width="0.2" font-size="13" textLength="27.0" lengthAdjust="spacingAndGlyphs">03:00</text>
<text x="239.0" y="477.0" fill="#000" stroke="#000" stroke-width="0.2" font-size="13" textLength="27.0" lengthAdjust="spacingAndGlyphs">04:00</text>
<text x="274.0" y="477.0" fill="#000" stroke="#000" stroke-width="0.2" font-size="13" textLength="27.0" lengthAdjust="spacingAndGlyphs">05:00</text>
<text x="309.0" y="477.0" fill="#000" stroke="#000" stroke-width="0.2" font-size="13" textLength="27.0" lengthAdjust="spacingAndGlyphs">06:00</text>
<text x="343.0" y="477.0" fill="#000" stroke="#000" stroke-width="0.2" font-size="13" textLength="27.0" lengthAdjust="spacingAndGlyphs">07:00</text>
<text x="378.0" y="477.0" fill="#000" stroke="#000" stroke-width="0.2" font-size="13" textLength="27.0" lengthAdjust="spacingAndGlyphs">08:00</text>
<text x="412.0" y="477.0" fill="#000" stroke="#000" stroke-width="0.2" font-size="13" textLength="27.0" lengthAdjust="spacingAndGlyphs">09:00</text>
<text x="447.0" y="477.0" fill="#000" stroke="#000" stroke-width="0.2" font-size="13" textLength="27.0" lengthAdjust="spacingAndGlyphs">10:00</text>
<text x="481.0" y="477.0" fill="#000" stroke="#000" stroke-width="0.2" font-size="13" textLength="27.0" lengthAdjust="spacingAndGlyphs">11:00</text>
<text x="516.0" y="477.0" fill="#000" stroke="#000" stroke-width="0.2" font-size="13" textLength="27.0" lengthAdjust="spacingAndGlyphs">12:00</text>
<text x="551.0" y="477.0" fill="#000" stroke="#000" stroke-width="0.2" font-size="13" textLength="27.0" lengthAdjust="spacingAndGlyphs">13:00</text>
<text x="585.0" y="477.0" fill="#000" stroke="#000" stroke-width="0.2" font-size="13" textLength="27.0" lengthAdjust="spacingAndGlyphs">14:00</text>
<text x="620.0" y="477.0" fill="#000" stroke="#000" stroke-width="0.2" font-size="13" textLength="27.0" lengthAdjust="spacingAndGlyphs">15:00</text>
<text x="654.0" y="477.0" fill="#000" stroke="#000" stroke-width="0.2" font-size="13" textLength="27.0" lengthAdjust="spacingAndGlyphs">16:00</text>
<text x="689.0" y="477.0" fill="#000" stroke="#000" stroke-width="0.2" font-size="13" textLength="27.0" lengthAdjust="spacingAndGlyphs">17:00</text>
<text x="723.0" y="477.0" fill="#000" stroke="#000" stroke-width="0.2" font-size="13" textLength="27.0" lengthAdjust="spacingAndGlyphs">18:00</text>
<text x="758.0" y="477.0" fill="#000" stroke="#000" stroke-width="0.2" font-size="13" textLength="27.0" lengthAdjust="spacingAndGlyphs">19:00</text>
<text x="793.0" y="477.0" fill="#000" stroke="#000" stroke-width="0.2" font-size="13" textLength="27.0" lengthAdjust="spacingAndGlyphs">20:00</text>
<text x="827.0" y="477.0" fill="#000" stroke="#000" stroke-width="0.2" font-size="13" textLength="27.0" lengthAdjust="spacingAndGlyphs">21:00</text>
<text x="862.0" y="477.0" fill="#000" stroke="#000" stroke-width="0.2" font-size="13" textLength="27.0" lengthAdjust="spacingAndGlyphs">22:00</text>
<text x="896.0" y="477.0" fill="#000" stroke="#000" stroke-width="0.2" font-size="13" textLength="27.0" lengthAdjust="spacingAndGlyphs">23:00</text>
<text x="932.0" y="477.0" fill="#000" stroke="#000" stroke-width="0.2" font-size="13" textLength="27.0" lengthAdjust="spacingAndGlyphs">24:00</text>
<rect x="124.5" y="33.5" width="9" height="9" fill="#ff0000" stroke="#000" stroke-width="1" shape-rendering="crispEdges"/>
<text x="138.3" y="42.0" fill="#ff0000" stroke="#ff0000" stroke-width="0.2" font-size="13" textLength="43.0" lengthAdjust="spacingAndGlyphs">Temp. A.</text>
<rect x="219.5" y="33.5" width="9" height="9" fill="#ffffff" stroke="#000" stroke-width="1" shape-rendering="crispEdges"/>
<rect x="314.5" y="33.5" width="9" height="9" fill="#00ff00" stroke="#000" stroke-width="1" shape-rendering="crispEdges"/>
<text x="328.3" y="42.0" fill="#00ff00" stroke="#00ff00" stroke-width="0.2" font-size="13" textLength="45.0" lengthAdjust="spacingAndGlyphs">Luftdruck</text>
<rect x="409.5" y="33.5" width="9" height="9" fill="#008040" stroke="#000" stroke-width="1" shape-rendering="crispEdges"/>
<text x="423.3" y="42.0" fill="#008040" stroke="#008040" stroke-width="0.2" font-size="13" textLength="32.0" lengthAdjust="spacingAndGlyphs">Regen</text>
<rect x="504.5" y="33.5" width="9" height="9" fill="#000000" stroke="#000" stroke-width="1" shape-rendering="crispEdges"/>
<text x="518.3" y="42.0" fill="#000" stroke="#000" stroke-width="0.2" font-size="13" textLength="25.0" lengthAdjust="spacingAndGlyphs">Wind</text>
<rect x="599.5" y="33.5" width="9" height="9" fill="#408080" stroke="#000" stroke-width="1" shape-rendering="crispEdges"/>
<text x="613.3" y="42.0" fill="#ff0000" stroke="#ff0000" stroke-width="0.2" font-size="13" textLength="46.0" lengthAdjust="spacingAndGlyphs">Taupunkt</text>
<rect x="694.5" y="33.5" width="9" height="9" fill="#ff8040" stroke="#000" stroke-width="1" shape-rendering="crispEdges"/>
<text x="708.3" y="42.0" fill="#000" stroke="#000" stroke-width="0.2" font-size="13" textLength="49.0" lengthAdjust="spacingAndGlyphs">Windböen</text>
<path d="M789.5,42 V33.5 H798.5 V42.5 H795" fill="none" stroke="#ff0000" stroke-width="1" shape-rendering="crispEdges"/>
<text x="803.0" y="42.0" fill="#ff0000" stroke="#ff0000" stroke-width="0.2" font-size="13" textLength="59.0" lengthAdjust="spacingAndGlyphs">1.8 Monat-Ø</text>
<text x="437" y="20.5" font-size="16" fill="#000" textLength="152" lengthAdjust="spacingAndGlyphs">Samstag, 14.01.2012</text>
<text x="881.0" y="17.0" fill="#ff0000" stroke="#ff0000" stroke-width="0.2" font-size="13" textLength="148.0" lengthAdjust="spacingAndGlyphs">www.heusenstamm-wetter.de e</text>
<text x="10.5" y="488.0" fill="#000" stroke="#000" stroke-width="0.2" font-size="13" textLength="27.0" lengthAdjust="spacingAndGlyphs">08:29</text>
<g shape-rendering="crispEdges" fill="#ffff00"><rect x="43" y="481" width="3" height="1"/><rect x="41" y="482" width="7" height="2"/><rect x="40" y="484" width="9" height="3"/></g>
<text x="368.5" y="488.0" fill="#000" stroke="#000" stroke-width="0.2" font-size="13" textLength="27.0" lengthAdjust="spacingAndGlyphs">08:18</text>
<circle cx="402.5" cy="483.5" r="5.2" fill="none" stroke="#ffff70" stroke-width="1" stroke-dasharray="2.2 1.9" opacity="0.75"/><circle cx="402" cy="484" r="3.1" fill="#ffff00"/>
<text x="475.0" y="488.0" fill="#000" stroke="#000" stroke-width="0.2" font-size="13" textLength="27.0" lengthAdjust="spacingAndGlyphs">10:14</text>
<g shape-rendering="crispEdges"><rect x="463" y="478" width="11" height="11" fill="#101090"/></g>
<path d="M466,478 h2 v2 h2 v2 l-3,5 l-3,-5 v-2 h2 z" fill="#ffff00"/><path d="M468,483 l0.5,0.5 -2,4 z" fill="#000"/><path d="M474,489 v-4.2 q-6,0 -6,4.2 z" fill="#fff"/>
<text x="661.5" y="488.0" fill="#000" stroke="#000" stroke-width="0.2" font-size="13" textLength="27.0" lengthAdjust="spacingAndGlyphs">16:48</text>
<rect x="692.5" y="481.5" width="5" height="5" fill="#ffffe0" stroke="#ffff40" stroke-width="1"/>
<text x="937.5" y="488.0" fill="#000" stroke="#000" stroke-width="0.2" font-size="13" textLength="27.0" lengthAdjust="spacingAndGlyphs">23:37</text>
<g shape-rendering="crispEdges"><rect x="926" y="478" width="11" height="11" fill="#101090"/></g>
<circle cx="929.3" cy="480.6" r="2.6" fill="#fff"/><path d="M933.5,481 l3,4.5 h-2 v3.5 h-2.4 v-3.5 h-2 z" fill="#ffff00"/>
<g shape-rendering="crispEdges">
<rect x="1" y="490" width="1030" height="90" fill="#ccfaf6"/>
<rect x="87" y="490" width="1" height="89" fill="#ffffff"/>
<rect x="88" y="490" width="1" height="89" fill="#909090"/>
<rect x="87" y="578" width="2" height="1" fill="#909090"/>
<rect x="204" y="490" width="1" height="89" fill="#ffffff"/>
<rect x="205" y="490" width="1" height="89" fill="#909090"/>
<rect x="204" y="578" width="2" height="1" fill="#909090"/>
<rect x="322" y="490" width="1" height="89" fill="#ffffff"/>
<rect x="323" y="490" width="1" height="89" fill="#909090"/>
<rect x="322" y="578" width="2" height="1" fill="#909090"/>
<rect x="440" y="490" width="1" height="89" fill="#ffffff"/>
<rect x="441" y="490" width="1" height="89" fill="#909090"/>
<rect x="440" y="578" width="2" height="1" fill="#909090"/>
<rect x="558" y="490" width="1" height="89" fill="#ffffff"/>
<rect x="559" y="490" width="1" height="89" fill="#909090"/>
<rect x="558" y="578" width="2" height="1" fill="#909090"/>
<rect x="676" y="490" width="1" height="89" fill="#ffffff"/>
<rect x="677" y="490" width="1" height="89" fill="#909090"/>
<rect x="676" y="578" width="2" height="1" fill="#909090"/>
<rect x="794" y="490" width="1" height="89" fill="#ffffff"/>
<rect x="795" y="490" width="1" height="89" fill="#909090"/>
<rect x="794" y="578" width="2" height="1" fill="#909090"/>
<rect x="912" y="490" width="1" height="89" fill="#ffffff"/>
<rect x="913" y="490" width="1" height="89" fill="#909090"/>
<rect x="912" y="578" width="2" height="1" fill="#909090"/>
<rect x="0" y="580" width="1031" height="1" fill="#a0a0a0"/>
<rect x="0" y="581" width="1031" height="1" fill="#ffffff"/>
<rect x="0" y="582" width="1031" height="5" fill="#f0f0f0"/>
<rect x="0" y="582" width="1" height="5" fill="#ffffff"/>
<rect x="1" y="582" width="487" height="2" fill="#a0a0a0"/>
<rect x="1" y="582" width="2" height="5" fill="#a0a0a0"/>
<rect x="486" y="582" width="2" height="5" fill="#ffffff"/>
<rect x="488" y="582" width="196" height="2" fill="#a0a0a0"/>
<rect x="488" y="582" width="2" height="5" fill="#a0a0a0"/>
<rect x="682" y="582" width="2" height="5" fill="#ffffff"/>
<rect x="684" y="582" width="173" height="2" fill="#a0a0a0"/>
<rect x="684" y="582" width="2" height="5" fill="#a0a0a0"/>
<rect x="855" y="582" width="2" height="5" fill="#ffffff"/>
<rect x="857" y="582" width="43" height="2" fill="#a0a0a0"/>
<rect x="857" y="582" width="2" height="5" fill="#a0a0a0"/>
<rect x="898" y="582" width="2" height="5" fill="#ffffff"/>
<rect x="900" y="582" width="53" height="2" fill="#a0a0a0"/>
<rect x="900" y="582" width="2" height="5" fill="#a0a0a0"/>
<rect x="951" y="582" width="2" height="5" fill="#ffffff"/>
<rect x="953" y="582" width="69" height="2" fill="#a0a0a0"/>
<rect x="953" y="582" width="2" height="5" fill="#a0a0a0"/>
<rect x="1020" y="582" width="2" height="5" fill="#ffffff"/>
<rect x="1023" y="582" width="8" height="2" fill="#a0a0a0"/>
<rect x="1022" y="489" width="1" height="98" fill="#a0a0a0"/>
<rect x="1031" y="0" width="3" height="587" fill="#ffffff"/>
</g>
<text x="8.3" y="508.0" fill="#000" stroke="#000" stroke-width="0.2" font-size="13" font-weight="bold" textLength="39.0" lengthAdjust="spacingAndGlyphs">Sensor</text>
<text x="8.3" y="524.0" fill="#000" stroke="#000" stroke-width="0.2" font-size="13" font-weight="bold" textLength="47.0" lengthAdjust="spacingAndGlyphs">MinWert</text>
<text x="8.3" y="540.0" fill="#000" stroke="#000" stroke-width="0.2" font-size="13" font-weight="bold" textLength="50.0" lengthAdjust="spacingAndGlyphs">MaxWert</text>
<text x="8.3" y="556.0" fill="#000" stroke="#000" stroke-width="0.2" font-size="13" font-weight="bold" textLength="72.0" lengthAdjust="spacingAndGlyphs">Durchschnitt</text>
<text x="8.3" y="572.0" fill="#000" stroke="#000" stroke-width="0.2" font-size="13" font-weight="bold" textLength="72.0" lengthAdjust="spacingAndGlyphs">14.01. 23:55</text>
<text x="95.0" y="508.0" fill="#000" stroke="#000" stroke-width="0.2" font-size="13" font-weight="bold" textLength="51.0" lengthAdjust="spacingAndGlyphs">Temp. A.</text>
<text x="185.0" y="508.0" fill="#000" stroke="#000" stroke-width="0.2" font-size="13" font-weight="bold" textLength="13.0" lengthAdjust="spacingAndGlyphs">°C</text>
<text x="101.0" y="524.0" fill="#000" stroke="#000" stroke-width="0.2" font-size="13" textLength="27.0" lengthAdjust="spacingAndGlyphs">23:05</text>
<text x="180.0" y="524.0" fill="#000" stroke="#000" stroke-width="0.2" font-size="13" textLength="18.0" lengthAdjust="spacingAndGlyphs">-1.4</text>
<text x="101.0" y="540.0" fill="#000" stroke="#000" stroke-width="0.2" font-size="13" textLength="27.0" lengthAdjust="spacingAndGlyphs">15:30</text>
<text x="183.0" y="540.0" fill="#000" stroke="#000" stroke-width="0.2" font-size="13" textLength="15.0" lengthAdjust="spacingAndGlyphs">6.1</text>
<text x="100.0" y="556.0" fill="#000" stroke="#000" stroke-width="0.2" font-size="13" textLength="39.0" lengthAdjust="spacingAndGlyphs">(+ 0.76 )</text>
<text x="177.0" y="556.0" fill="#000" stroke="#000" stroke-width="0.2" font-size="13" textLength="21.0" lengthAdjust="spacingAndGlyphs">2.56</text>
<text x="98.0" y="572.0" fill="#000" stroke="#000" stroke-width="0.2" font-size="13" textLength="35.0" lengthAdjust="spacingAndGlyphs">F: 93 %</text>
<text x="176.0" y="572.0" fill="#000" stroke="#000" stroke-width="0.2" font-size="13" font-weight="bold" textLength="22.0" lengthAdjust="spacingAndGlyphs">-1.4</text>
<text x="213.0" y="508.0" fill="#000" stroke="#000" stroke-width="0.2" font-size="13" font-weight="bold" textLength="54.0" lengthAdjust="spacingAndGlyphs">Taupunkt</text>
<text x="303.0" y="508.0" fill="#000" stroke="#000" stroke-width="0.2" font-size="13" font-weight="bold" textLength="13.0" lengthAdjust="spacingAndGlyphs">°C</text>
<text x="219.0" y="524.0" fill="#000" stroke="#000" stroke-width="0.2" font-size="13" textLength="27.0" lengthAdjust="spacingAndGlyphs">22:45</text>
<text x="298.0" y="524.0" fill="#000" stroke="#000" stroke-width="0.2" font-size="13" textLength="18.0" lengthAdjust="spacingAndGlyphs">-2.6</text>
<text x="219.0" y="540.0" fill="#000" stroke="#000" stroke-width="0.2" font-size="13" textLength="27.0" lengthAdjust="spacingAndGlyphs">11:50</text>
<text x="301.0" y="540.0" fill="#000" stroke="#000" stroke-width="0.2" font-size="13" textLength="15.0" lengthAdjust="spacingAndGlyphs">1.3</text>
<text x="298.0" y="556.0" fill="#000" stroke="#000" stroke-width="0.2" font-size="13" textLength="18.0" lengthAdjust="spacingAndGlyphs">-0.3</text>
<text x="294.0" y="572.0" fill="#000" stroke="#000" stroke-width="0.2" font-size="13" font-weight="bold" textLength="22.0" lengthAdjust="spacingAndGlyphs">-2.4</text>
<text x="331.0" y="508.0" fill="#000" stroke="#000" stroke-width="0.2" font-size="13" font-weight="bold" textLength="62.0" lengthAdjust="spacingAndGlyphs">Feuchte A.</text>
<text x="425.0" y="508.0" fill="#000" stroke="#000" stroke-width="0.2" font-size="13" font-weight="bold" textLength="9.0" lengthAdjust="spacingAndGlyphs">%</text>
<text x="337.0" y="524.0" fill="#000" stroke="#000" stroke-width="0.2" font-size="13" textLength="27.0" lengthAdjust="spacingAndGlyphs">15:45</text>
<text x="422.0" y="524.0" fill="#000" stroke="#000" stroke-width="0.2" font-size="13" textLength="12.0" lengthAdjust="spacingAndGlyphs">67</text>
<text x="337.0" y="540.0" fill="#000" stroke="#000" stroke-width="0.2" font-size="13" textLength="27.0" lengthAdjust="spacingAndGlyphs">23:40</text>
<text x="422.0" y="540.0" fill="#000" stroke="#000" stroke-width="0.2" font-size="13" textLength="12.0" lengthAdjust="spacingAndGlyphs">93</text>
<text x="422.0" y="556.0" fill="#000" stroke="#000" stroke-width="0.2" font-size="13" textLength="12.0" lengthAdjust="spacingAndGlyphs">82</text>
<text x="334.0" y="572.0" fill="#000" stroke="#000" stroke-width="0.2" font-size="13" textLength="46.0" lengthAdjust="spacingAndGlyphs">4.09 g/m³</text>
<text x="420.0" y="572.0" fill="#000" stroke="#000" stroke-width="0.2" font-size="13" font-weight="bold" textLength="14.0" lengthAdjust="spacingAndGlyphs">93</text>
<text x="449.0" y="508.0" fill="#000" stroke="#000" stroke-width="0.2" font-size="13" font-weight="bold" textLength="54.0" lengthAdjust="spacingAndGlyphs">Luftdruck</text>
<text x="530.0" y="508.0" fill="#000" stroke="#000" stroke-width="0.2" font-size="13" font-weight="bold" textLength="22.0" lengthAdjust="spacingAndGlyphs">hPa</text>
<text x="455.0" y="524.0" fill="#000" stroke="#000" stroke-width="0.2" font-size="13" textLength="27.0" lengthAdjust="spacingAndGlyphs">15:20</text>
<text x="519.0" y="524.0" fill="#000" stroke="#000" stroke-width="0.2" font-size="13" textLength="33.0" lengthAdjust="spacingAndGlyphs">1025.9</text>
<text x="455.0" y="540.0" fill="#000" stroke="#000" stroke-width="0.2" font-size="13" textLength="27.0" lengthAdjust="spacingAndGlyphs">02:20</text>
<text x="519.0" y="540.0" fill="#000" stroke="#000" stroke-width="0.2" font-size="13" textLength="33.0" lengthAdjust="spacingAndGlyphs">1027.6</text>
<text x="449.0" y="556.0" fill="#000" stroke="#000" stroke-width="0.2" font-size="13" textLength="50.0" lengthAdjust="spacingAndGlyphs">^0.7hPa/h</text>
<text x="519.0" y="556.0" fill="#000" stroke="#000" stroke-width="0.2" font-size="13" textLength="33.0" lengthAdjust="spacingAndGlyphs">1026.8</text>
<text x="449.0" y="572.0" fill="#000" stroke="#000" stroke-width="0.2" font-size="13" textLength="58.0" lengthAdjust="spacingAndGlyphs">veränderlich</text>
<text x="513.0" y="572.0" fill="#000" stroke="#000" stroke-width="0.2" font-size="13" font-weight="bold" textLength="39.0" lengthAdjust="spacingAndGlyphs">1026.3</text>
<text x="567.0" y="508.0" fill="#000" stroke="#000" stroke-width="0.2" font-size="13" font-weight="bold" textLength="75.0" lengthAdjust="spacingAndGlyphs">Windrichtung</text>
<text x="573.0" y="524.0" fill="#000" stroke="#000" stroke-width="0.2" font-size="13" textLength="27.0" lengthAdjust="spacingAndGlyphs">14:20</text>
<text x="662.0" y="524.0" fill="#000" stroke="#000" stroke-width="0.2" font-size="13" textLength="8.0" lengthAdjust="spacingAndGlyphs">N</text>
<text x="573.0" y="540.0" fill="#000" stroke="#000" stroke-width="0.2" font-size="13" textLength="27.0" lengthAdjust="spacingAndGlyphs">16:00</text>
<text x="662.0" y="540.0" fill="#000" stroke="#000" stroke-width="0.2" font-size="13" textLength="8.0" lengthAdjust="spacingAndGlyphs">N</text>
<text x="659.0" y="556.0" fill="#000" stroke="#000" stroke-width="0.2" font-size="13" textLength="11.0" lengthAdjust="spacingAndGlyphs">W</text>
<text x="570.0" y="572.0" fill="#000" stroke="#000" stroke-width="0.2" font-size="13" textLength="25.0" lengthAdjust="spacingAndGlyphs">331 °</text>
<text x="636.0" y="572.0" fill="#000" stroke="#000" stroke-width="0.2" font-size="13" font-weight="bold" textLength="34.0" lengthAdjust="spacingAndGlyphs">N-NW</text>
<text x="685.0" y="508.0" fill="#000" stroke="#000" stroke-width="0.2" font-size="13" font-weight="bold" textLength="29.0" lengthAdjust="spacingAndGlyphs">Wind</text>
<text x="759.0" y="508.0" fill="#000" stroke="#000" stroke-width="0.2" font-size="13" font-weight="bold" textLength="29.0" lengthAdjust="spacingAndGlyphs">km/h</text>
<text x="685.0" y="524.0" fill="#000" stroke="#000" stroke-width="0.2" font-size="13" textLength="45.0" lengthAdjust="spacingAndGlyphs">Ø 10 min.</text>
<text x="773.0" y="524.0" fill="#000" stroke="#000" stroke-width="0.2" font-size="13" textLength="15.0" lengthAdjust="spacingAndGlyphs">0.0</text>
<text x="691.0" y="540.0" fill="#000" stroke="#000" stroke-width="0.2" font-size="13" textLength="27.0" lengthAdjust="spacingAndGlyphs">00:10</text>
<text x="753.0" y="540.0" fill="#000" stroke="#000" stroke-width="0.2" font-size="13" textLength="35.0" lengthAdjust="spacingAndGlyphs">W 15.9</text>
<text x="773.0" y="556.0" fill="#000" stroke="#000" stroke-width="0.2" font-size="13" textLength="15.0" lengthAdjust="spacingAndGlyphs">5.6</text>
<text x="691.0" y="572.0" fill="#000" stroke="#000" stroke-width="0.2" font-size="13" textLength="55.0" lengthAdjust="spacingAndGlyphs">0 Bft N-NW</text>
<text x="770.0" y="572.0" fill="#000" stroke="#000" stroke-width="0.2" font-size="13" font-weight="bold" textLength="18.0" lengthAdjust="spacingAndGlyphs">0.0</text>
<text x="803.0" y="508.0" fill="#000" stroke="#000" stroke-width="0.2" font-size="13" font-weight="bold" textLength="57.0" lengthAdjust="spacingAndGlyphs">Windböen</text>
<text x="877.0" y="508.0" fill="#000" stroke="#000" stroke-width="0.2" font-size="13" font-weight="bold" textLength="29.0" lengthAdjust="spacingAndGlyphs">km/h</text>
<text x="803.0" y="524.0" fill="#000" stroke="#000" stroke-width="0.2" font-size="13" textLength="45.0" lengthAdjust="spacingAndGlyphs">Ø 10 min.</text>
<text x="891.0" y="524.0" fill="#000" stroke="#000" stroke-width="0.2" font-size="13" textLength="15.0" lengthAdjust="spacingAndGlyphs">0.0</text>
<text x="809.0" y="540.0" fill="#000" stroke="#000" stroke-width="0.2" font-size="13" textLength="27.0" lengthAdjust="spacingAndGlyphs">00:40</text>
<text x="849.0" y="540.0" fill="#000" stroke="#000" stroke-width="0.2" font-size="13" textLength="57.0" lengthAdjust="spacingAndGlyphs">W-NW 33.8</text>
<text x="885.0" y="556.0" fill="#000" stroke="#000" stroke-width="0.2" font-size="13" textLength="21.0" lengthAdjust="spacingAndGlyphs">12.5</text>
<text x="809.0" y="572.0" fill="#000" stroke="#000" stroke-width="0.2" font-size="13" textLength="55.0" lengthAdjust="spacingAndGlyphs">0 Bft N-NW</text>
<text x="888.0" y="572.0" fill="#000" stroke="#000" stroke-width="0.2" font-size="13" font-weight="bold" textLength="18.0" lengthAdjust="spacingAndGlyphs">0.0</text>
<text x="921.0" y="508.0" fill="#000" stroke="#000" stroke-width="0.2" font-size="13" font-weight="bold" textLength="37.0" lengthAdjust="spacingAndGlyphs">Regen</text>
<text x="1000.0" y="508.0" fill="#000" stroke="#000" stroke-width="0.2" font-size="13" font-weight="bold" textLength="22.0" lengthAdjust="spacingAndGlyphs">l/m²</text>
<text x="927.0" y="540.0" fill="#000" stroke="#000" stroke-width="0.2" font-size="13" textLength="27.0" lengthAdjust="spacingAndGlyphs">00:00</text>
<text x="1007.0" y="540.0" fill="#000" stroke="#000" stroke-width="0.2" font-size="13" textLength="15.0" lengthAdjust="spacingAndGlyphs">0.0</text>
<text x="921.0" y="556.0" fill="#000" stroke="#000" stroke-width="0.2" font-size="13" textLength="39.0" lengthAdjust="spacingAndGlyphs">Gesamt:</text>
<text x="1007.0" y="556.0" fill="#000" stroke="#000" stroke-width="0.2" font-size="13" textLength="15.0" lengthAdjust="spacingAndGlyphs">0.0</text>
<text x="924.0" y="572.0" fill="#000" stroke="#000" stroke-width="0.2" font-size="13" textLength="36.0" lengthAdjust="spacingAndGlyphs">0.0 l/m²</text>
<text x="1004.0" y="572.0" fill="#000" stroke="#000" stroke-width="0.2" font-size="13" font-weight="bold" textLength="18.0" lengthAdjust="spacingAndGlyphs">0.0</text>
</svg>
</body></html>
